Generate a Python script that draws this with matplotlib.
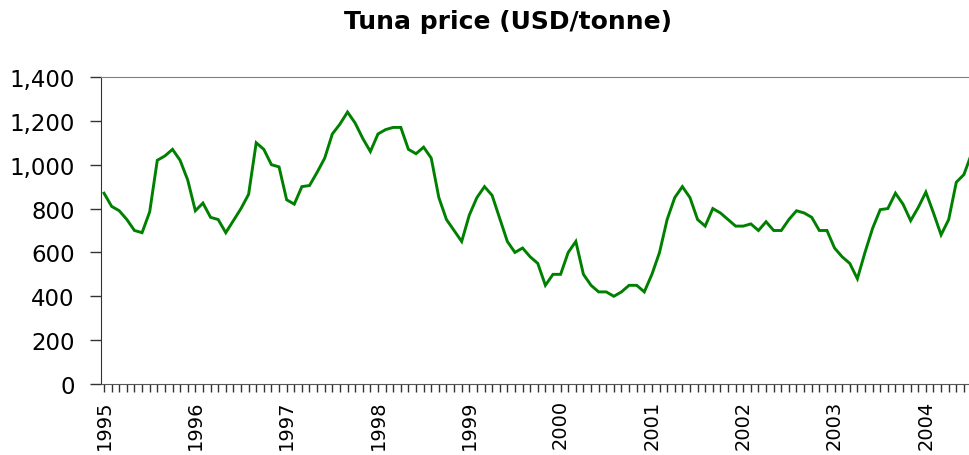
import matplotlib
matplotlib.use("Agg")
import matplotlib.pyplot as plt
import numpy as np

# monthly tuna price, Jan 1995 - Jul 2004 (USD/tonne)
price_1995 = [870, 810, 790, 750, 700, 690, 785, 1020, 1040, 1070, 1020, 930]
price_1996 = [790, 825, 760, 750, 690, 745, 800, 865, 1100, 1070, 1000, 990]
price_1997 = [840, 820, 900, 905, 965, 1030, 1140, 1185, 1240, 1190, 1120, 1060]
price_1998 = [1140, 1160, 1170, 1170, 1070, 1050, 1080, 1030, 850, 750, 700, 650]
price_1999 = [770, 850, 900, 860, 755, 650, 600, 620, 580, 550, 450, 500]
price_2000 = [500, 600, 650, 500, 450, 420, 420, 400, 420, 450, 450, 420]
price_2001 = [500, 600, 750, 850, 900, 850, 750, 720, 800, 780, 750, 720]
price_2002 = [720, 730, 700, 740, 700, 700, 750, 790, 780, 760, 700, 700]
price_2003 = [620, 580, 550, 480, 600, 710, 795, 800, 870, 820, 745, 805]
price_2004 = [875, 780, 680, 750, 920, 955, 1050]

years = ["1995", "1996", "1997", "1998", "1999", "2000", "2001", "2002", "2003", "2004"]
y_ticks = [0, 200, 400, 600, 800, 1000, 1200, 1400]

prices = (price_1995 + price_1996 + price_1997 + price_1998 + price_1999
          + price_2000 + price_2001 + price_2002 + price_2003 + price_2004)
months = np.arange(len(prices))

fig = plt.figure(figsize=(9.7, 4.56), dpi=100)
ax = fig.add_axes([0.1041, 0.1557, 0.8959, 0.6733])

ax.plot(months, prices, color="#008000", linewidth=2.1, solid_joinstyle="miter")

ax.set_ylim(0, 1400)
ax.set_xlim(-0.4, 113.8)
ax.set_yticks(y_ticks)
ax.set_yticklabels([f"{v:,}" for v in y_ticks], fontsize=16.5)
ax.set_xticks(np.arange(len(years)) * 12)
ax.set_xticklabels(years, rotation=90, fontsize=14, va="top")
ax.set_xticks(np.arange(0, 114), minor=True)

ax.tick_params(axis="y", direction="out", length=8, width=1, pad=11, color="#333333")
ax.tick_params(axis="x", which="both", direction="out", length=6, width=1,
               pad=5, color="#333333")

ax.spines["right"].set_visible(False)
ax.spines["top"].set_color("#808080")
ax.spines["left"].set_color("#333333")
ax.spines["bottom"].set_color("#555555")

fig.text(0.524, 0.952, "Tuna price (USD/tonne)", ha="center", va="center",
         fontsize=18, fontweight="bold")

fig.savefig("out.png", dpi=100)
